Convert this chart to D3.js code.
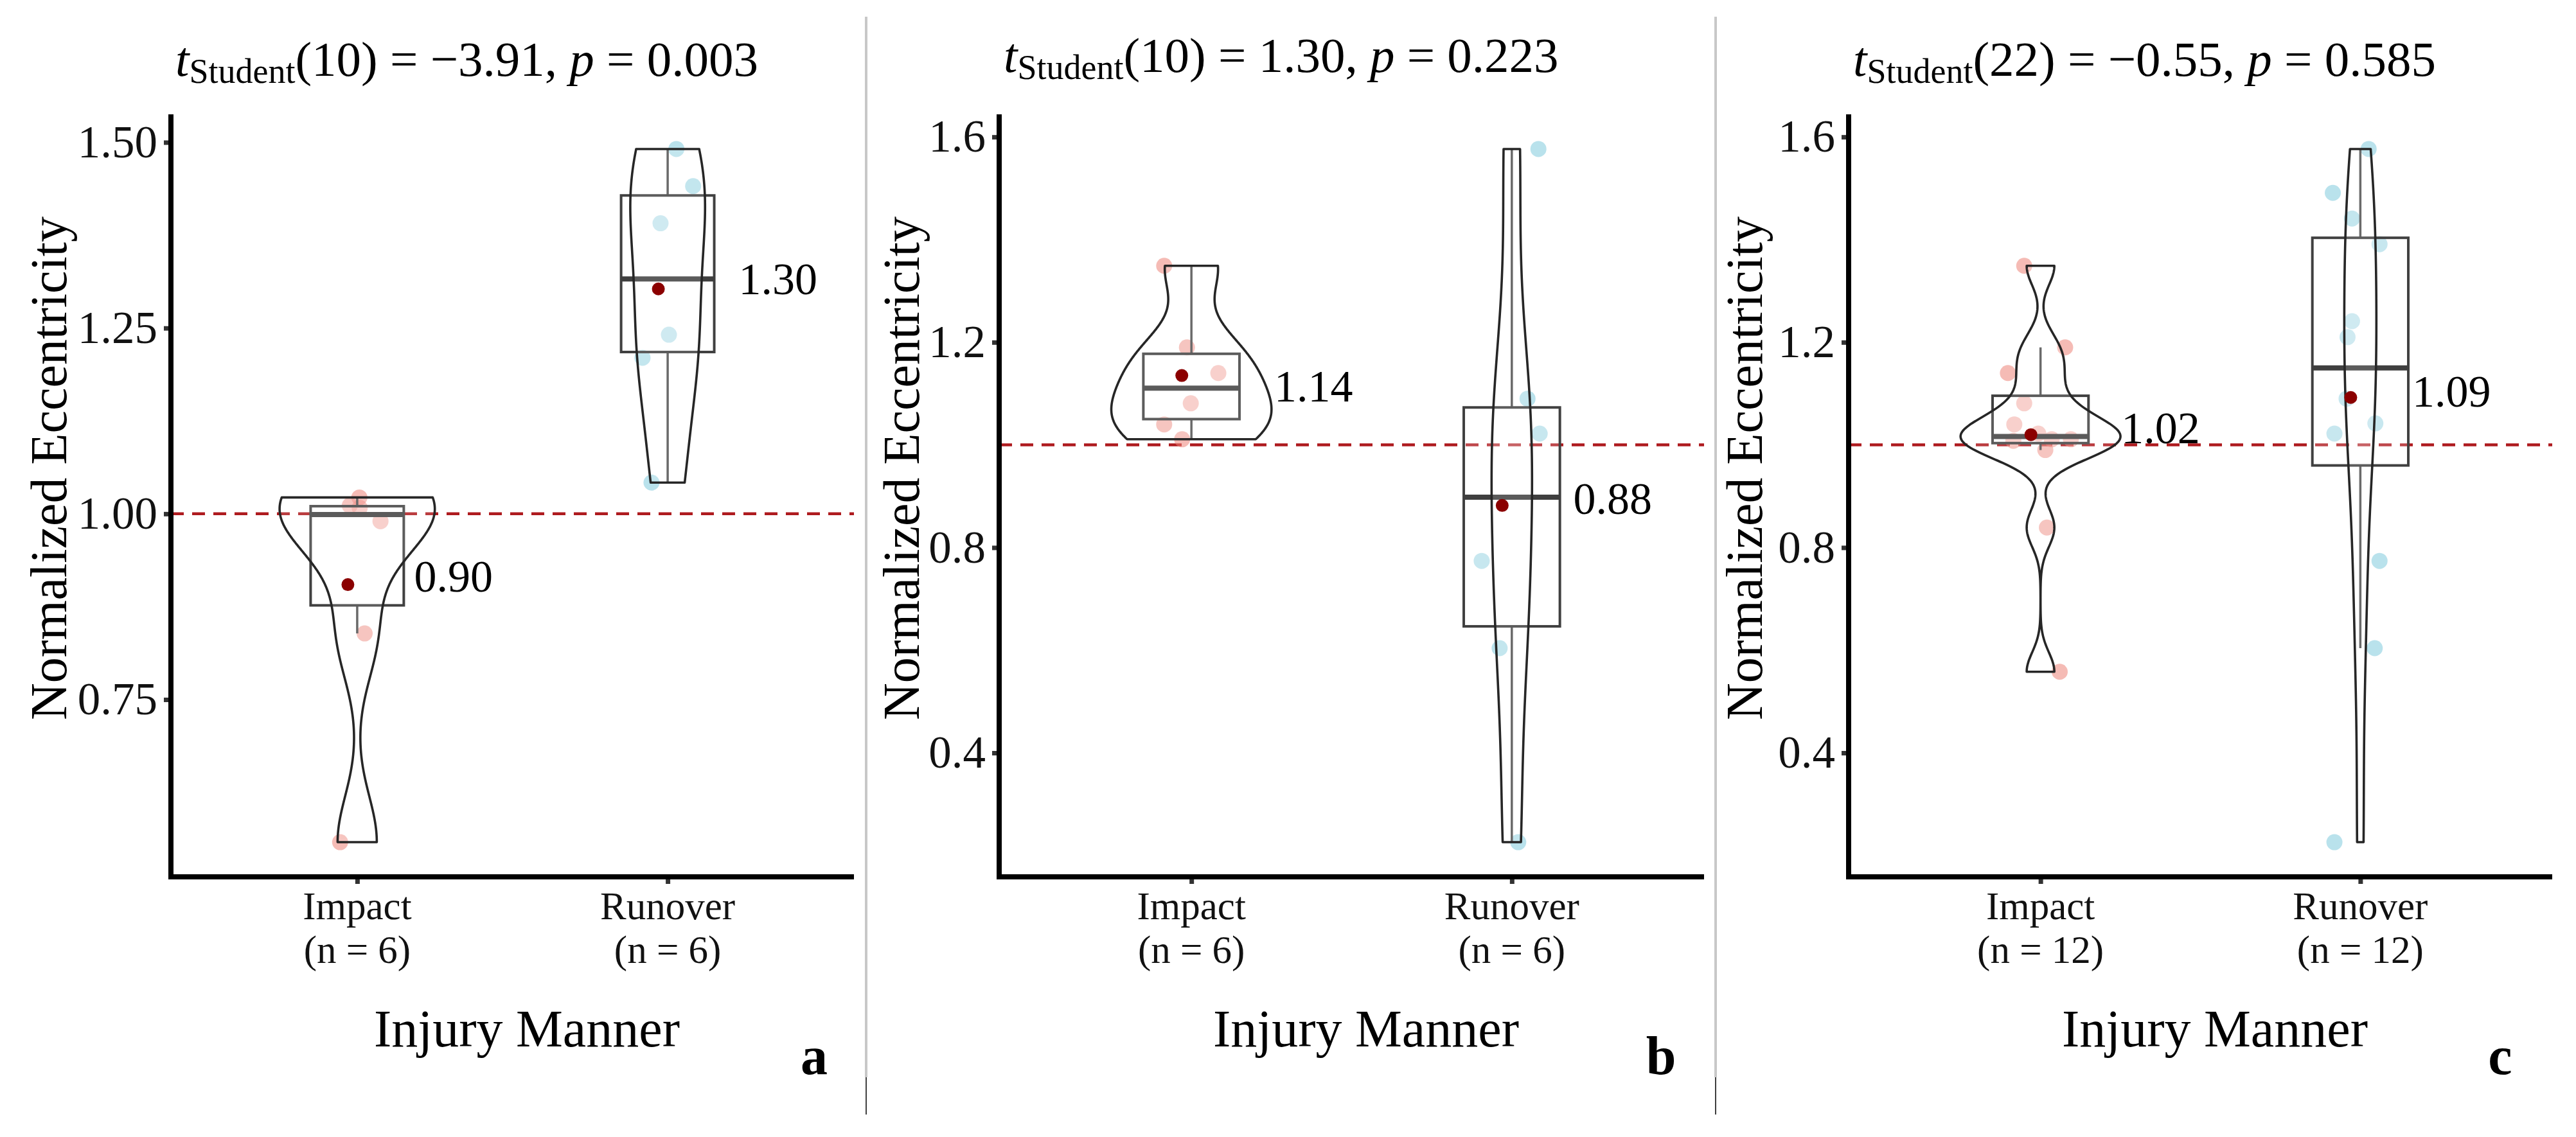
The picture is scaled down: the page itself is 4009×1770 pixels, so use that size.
<!DOCTYPE html>
<html>
<head>
<meta charset="utf-8">
<script src="https://cdn.jsdelivr.net/npm/d3@7"></script>
<style>
  html, body { margin: 0; padding: 0; background: #fff; }
  svg { display: block; }
  text, tspan { font-family: "Liberation Serif", "DejaVu Serif", serif; }
</style>
</head>
<body>
<svg id="chart" width="4009" height="1770"></svg>
<script>
// ---------------- DATA ----------------
const categories = ["Impact", "Runover"];
const panelLetters = ["a", "b", "c"];
const dfValues = [10, 10, 22];
const tValues = ["\u22123.91", "1.30", "\u22120.55"];
const pValues = ["0.003", "0.223", "0.585"];
const refValue = 1.0;

// panel a
const impactA  = [1.022, 1.011, 1.008, 0.990, 0.839, 0.558];
const runoverA = [1.491, 1.441, 1.391, 1.241, 1.210, 1.042];
// panel b
const impactB  = [1.349, 1.190, 1.140, 1.081, 1.040, 1.011];
const runoverB = [1.5765, 1.090, 1.022, 0.774, 0.604, 0.226];
// panel c (both groups pooled)
const impactC  = [1.022, 1.011, 1.008, 0.990, 0.839, 0.558, 1.349, 1.190, 1.140, 1.081, 1.040, 1.011];
const runoverC = [1.491, 1.441, 1.391, 1.241, 1.210, 1.042, 1.5765, 1.090, 1.022, 0.774, 0.604, 0.226];

// horizontal jitter of each point (in category units)
const jitterImpactA  = [0.007, -0.024, 0.008, 0.075, 0.024, -0.055];
const jitterRunoverA = [0.028, 0.082, -0.023, 0.004, -0.081, -0.052];
const jitterImpactB  = [-0.085, -0.014, 0.084, -0.002, -0.085, -0.029];
const jitterRunoverB = [0.083, 0.049, 0.087, -0.094, -0.038, 0.020];
const jitterImpactC  = [-0.007, 0.035, -0.085, 0.015, 0.020, 0.060, -0.051, 0.077, -0.102, -0.051, -0.082, 0.095];
const jitterRunoverC = [-0.086, -0.026, 0.060, -0.026, -0.040, 0.047, 0.026, -0.043, -0.081, 0.060, 0.045, -0.081];

const yTicksA  = [0.75, 1.00, 1.25, 1.50];
const yTicksBC = [0.4, 0.8, 1.2, 1.6];

// ---------------- LAYOUT / STYLE ----------------
const layout = [
  { left: 266,  right: 1329, top: 178, bottom: 1365, titleY: 118, yTitleX: 103,  yTitleY: 729, xTitleX: 820,  letterX: 1267,
    ticks: yTicksA, fmt: ".2f", data: [impactA, runoverA], jit: [jitterImpactA, jitterRunoverA],
    lab: [[16, -14], [38, -16]] },
  { left: 1555, right: 2652, top: 178, bottom: 1365, titleY: 112, yTitleX: 1430, yTitleY: 729, xTitleX: 2126, letterX: 2585,
    ticks: yTicksBC, fmt: ".1f", data: [impactB, runoverB], jit: [jitterImpactB, jitterRunoverB],
    lab: [[54, 16], [21, -11]] },
  { left: 2877, right: 3972, top: 178, bottom: 1365, titleY: 118, yTitleX: 2742, yTitleY: 729, xTitleX: 3447, letterX: 3891,
    ticks: yTicksBC, fmt: ".1f", data: [impactC, runoverC], jit: [jitterImpactC, jitterRunoverC],
    lab: [[51, -11], [6, -10]] }
];
const separators = [1348, 2670];
const pointFill = ["#EC8378", "#7FCBDD"];
const FONT = "Liberation Serif";

const svg = d3.select("#chart");
svg.append("rect").attr("width", 4009).attr("height", 1770).attr("fill", "#fff");

// separators
separators.forEach(x => {
  svg.append("line").attr("x1", x).attr("x2", x).attr("y1", 26).attr("y2", 1677)
    .attr("stroke", "#c8c8c8").attr("stroke-width", 4);
  svg.append("line").attr("x1", x).attr("x2", x).attr("y1", 1677).attr("y2", 1735)
    .attr("stroke", "#000").attr("stroke-width", 1.5);
});

function bwNrd0(x) {
  const s = d3.deviation(x);
  const sorted = x.slice().sort(d3.ascending);
  const iqr = d3.quantile(sorted, 0.75) - d3.quantile(sorted, 0.25);
  let lo = Math.min(s, iqr / 1.34);
  if (!(lo > 0)) lo = s || Math.abs(x[0]) || 1;
  return 0.9 * lo * Math.pow(x.length, -0.2);
}
function kde(x, bw, ys) {
  const n = x.length, c = 1 / (n * bw * Math.sqrt(2 * Math.PI));
  return ys.map(y => c * d3.sum(x, xi => Math.exp(-0.5 * ((y - xi) / bw) ** 2)));
}

layout.forEach((L, pi) => {
  const g = svg.append("g");
  const all = L.data[0].concat(L.data[1]);
  const mn = d3.min(all), mx = d3.max(all), rg = mx - mn;
  const y = d3.scaleLinear().domain([mn - 0.05 * rg, mx + 0.05 * rg]).range([L.bottom, L.top]);
  const x = d3.scaleLinear().domain([0.4, 2.6]).range([L.left, L.right]);
  const unit = x(1) - x(0);

  // reference dashed line
  g.append("line").attr("x1", L.left).attr("x2", L.right).attr("y1", y(refValue)).attr("y2", y(refValue))
    .attr("stroke", "#AE1A1E").attr("stroke-width", 4.5).attr("stroke-dasharray", "20 13");

  // densities
  const dens = L.data.map(vals => {
    const bw = bwNrd0(vals);
    const a = d3.min(vals), b = d3.max(vals);
    const ys = d3.range(512).map(i => a + i * (b - a) / 511);
    return { ys, d: kde(vals, bw, ys) };
  });
  const maxD = d3.max(dens, o => d3.max(o.d));

  L.data.forEach((vals, gi) => {
    const cx = x(gi + 1);
    // points
    g.append("g").selectAll("circle").data(vals).join("circle")
      .attr("cx", (v, i) => x(gi + 1 + L.jit[gi][i]))
      .attr("cy", v => y(v)).attr("r", 12.5)
      .attr("fill", pointFill[gi]).attr("fill-opacity", 0.55);

    // boxplot
    const s = vals.slice().sort(d3.ascending);
    const q1 = d3.quantile(s, 0.25), q2 = d3.quantile(s, 0.5), q3 = d3.quantile(s, 0.75);
    const iqr = q3 - q1;
    const upper = d3.max(s.filter(v => v <= q3 + 1.5 * iqr));
    const lower = d3.min(s.filter(v => v >= q1 - 1.5 * iqr));
    const bh = 0.15 * unit;
    g.append("line").attr("x1", cx).attr("x2", cx).attr("y1", y(q3)).attr("y2", y(upper))
      .attr("stroke", "#505050").attr("stroke-width", 3.5);
    g.append("line").attr("x1", cx).attr("x2", cx).attr("y1", y(q1)).attr("y2", y(lower))
      .attr("stroke", "#505050").attr("stroke-width", 3.5);
    g.append("rect").attr("x", cx - bh).attr("width", 2 * bh)
      .attr("y", y(q3)).attr("height", y(q1) - y(q3))
      .attr("fill", "#fff").attr("fill-opacity", 0.2)
      .attr("stroke", "#404040").attr("stroke-width", 4);
    g.append("line").attr("x1", cx - bh).attr("x2", cx + bh).attr("y1", y(q2)).attr("y2", y(q2))
      .attr("stroke", "#3f3f3f").attr("stroke-width", 8);

    // violin
    const o = dens[gi];
    const right = o.ys.map((v, i) => [cx + 0.25 * unit * o.d[i] / maxD, y(v)]);
    const left = o.ys.map((v, i) => [cx - 0.25 * unit * o.d[i] / maxD, y(v)]).reverse();
    g.append("path").attr("d", d3.line()(right.concat(left)) + "Z")
      .attr("fill", "#fff").attr("fill-opacity", 0.15)
      .attr("stroke", "#262626").attr("stroke-width", 3.6).attr("stroke-linejoin", "round");

    // mean
    const m = d3.mean(vals);
    g.append("circle").attr("cx", cx - 0.03 * unit).attr("cy", y(m)).attr("r", 10).attr("fill", "#8B0000");
    g.append("text").attr("x", cx + bh + L.lab[gi][0]).attr("y", y(m) + L.lab[gi][1])
      .attr("dy", "0.35em").attr("font-size", 70).attr("font-family", FONT).attr("fill", "#000")
      .text(d3.format(".2f")(m));
  });

  // axes
  const yAxis = d3.axisLeft(y).tickValues(L.ticks).tickFormat(d3.format(L.fmt)).tickSize(11).tickPadding(10);
  const ya = g.append("g").attr("transform", `translate(${L.left},0)`).call(yAxis);
  ya.attr("font-family", FONT);
  ya.select(".domain").remove();
  ya.selectAll(".tick line").attr("stroke", "#333").attr("stroke-width", 7);
  ya.selectAll(".tick text").attr("font-size", 71).attr("fill", "#111").attr("font-family", FONT);

  const xa = g.append("g").attr("transform", `translate(0,${L.bottom})`)
    .call(d3.axisBottom(x).tickValues([1, 2]).tickFormat("").tickSize(11));
  xa.select(".domain").remove();
  xa.selectAll(".tick line").attr("stroke", "#333").attr("stroke-width", 7);

  // category labels (two separate lines)
  categories.forEach((c, gi) => {
    g.append("text").attr("x", x(gi + 1)).attr("y", 1431).attr("text-anchor", "middle")
      .attr("font-size", 61).attr("font-family", FONT).attr("fill", "#111").text(c);
    g.append("text").attr("x", x(gi + 1)).attr("y", 1499).attr("text-anchor", "middle")
      .attr("font-size", 61).attr("font-family", FONT).attr("fill", "#111")
      .text(`(n = ${L.data[gi].length})`);
  });

  // axis lines
  g.append("path").attr("d", `M${L.left},${L.top}V${L.bottom}H${L.right}`)
    .attr("fill", "none").attr("stroke", "#000").attr("stroke-width", 8).attr("stroke-linejoin", "miter");

  // y title
  g.append("text").attr("transform", `translate(${L.yTitleX},${L.yTitleY}) rotate(-90)`)
    .attr("text-anchor", "middle").attr("font-size", 80).attr("font-family", FONT).attr("fill", "#000")
    .text("Normalized Eccentricity");
  // x title
  g.append("text").attr("x", L.xTitleX).attr("y", 1629).attr("text-anchor", "middle")
    .attr("font-size", 82).attr("font-family", FONT).attr("fill", "#000").text("Injury Manner");
  // panel letter
  g.append("text").attr("x", L.letterX).attr("y", 1672).attr("text-anchor", "middle")
    .attr("font-size", 84).attr("font-weight", "bold").attr("font-family", FONT).attr("fill", "#000")
    .text(panelLetters[pi]);

  // title
  const tt = g.append("text").attr("x", L.left + 7).attr("y", L.titleY)
    .attr("font-size", 77).attr("font-family", FONT).attr("fill", "#000");
  tt.append("tspan").attr("font-style", "italic").text("t");
  tt.append("tspan").attr("font-size", 54).attr("dy", 11).text("Student");
  tt.append("tspan").attr("dy", -11).text(`(${dfValues[pi]}) = ${tValues[pi]}, `);
  tt.append("tspan").attr("font-style", "italic").text("p");
  tt.append("tspan").text(` = ${pValues[pi]}`);
});
</script>
</body>
</html>
